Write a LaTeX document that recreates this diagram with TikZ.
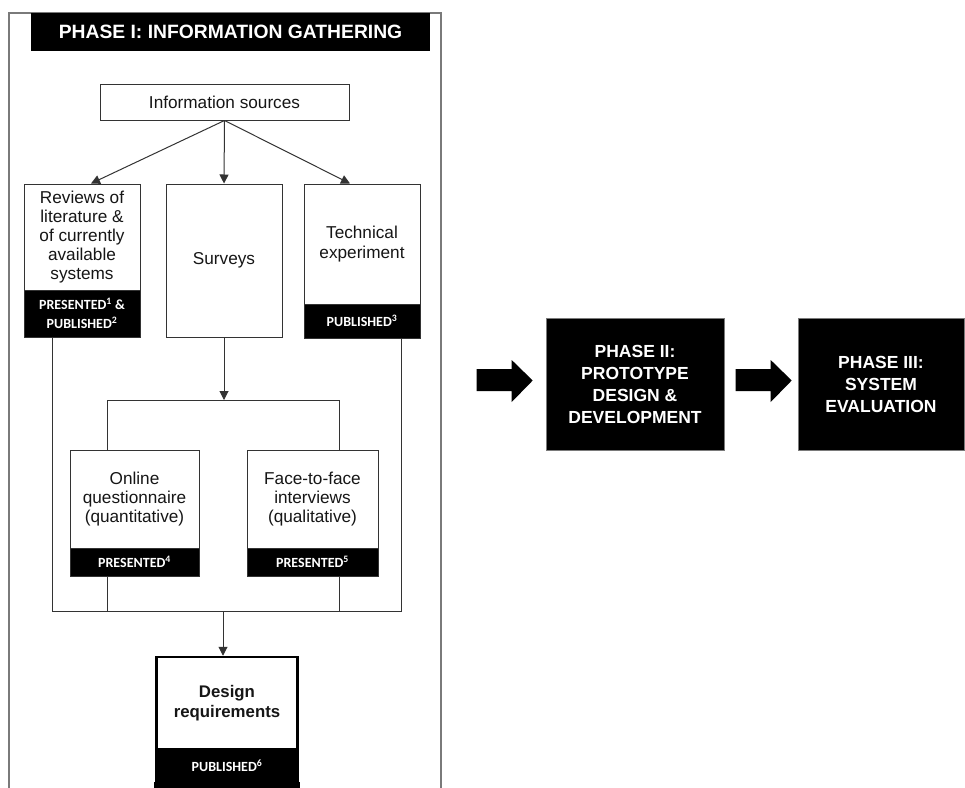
\documentclass[tikz,border=0pt]{standalone}
\usepackage{fontspec}
\setmainfont{Liberation Sans}
\newfontfamily\tagfont{Carlito}
\usetikzlibrary{arrows.meta,calc}
\definecolor{lineclr}{HTML}{333333}
\definecolor{txtclr}{HTML}{161616}
\definecolor{framegray}{HTML}{7A7A7A}
\begin{document}
\begin{tikzpicture}[x=1pt,y=-1pt,
  wbox/.style={draw=lineclr, line width=1pt, fill=white, inner sep=0pt,
    align=center, text=txtclr, font=\fontsize{17.2}{19.2}\selectfont},
  band/.style={draw=lineclr, line width=1pt, fill=black, inner sep=0pt,
    align=center, text=white, font=\tagfont\bfseries\fontsize{14}{19}\selectfont},
  conn/.style={draw=lineclr, line width=1pt},
  arr/.style={conn, -{Triangle[length=9pt,width=9pt]}},
  phase/.style={fill=black, draw=framegray, line width=0.6pt, inner sep=0pt,
    text=white, align=center, font=\bfseries\fontsize{17.5}{22}\selectfont},
  blockarrow/.style={fill=black}]
\useasboundingbox (0,0) rectangle (965,787);

% Phase I container
\draw[framegray, line width=2pt] (9,800) -- (9,13) -- (441,13) -- (441,800);
\node[fill=black, minimum width=399, minimum height=38, inner sep=0pt, text=white,
  font=\bfseries\fontsize{19.3}{21}\selectfont] (title) at (230.5,32)
  {PHASE I: INFORMATION GATHERING};

% Sources
\node[wbox, minimum width=249, minimum height=36] (src) at (224.5,102) {Information sources};

\node[wbox, minimum width=116, minimum height=106] (rev) at (82,237)
  {Reviews of\\literature \&\\of currently\\available\\systems};
\node[band, minimum width=116, minimum height=47] (revtag) at (82,313.5)
  {PRESENTED\textsuperscript{1} \&\\PUBLISHED\textsuperscript{2}};

\node[wbox, minimum width=116, minimum height=153] (srv) at (224,260.5) {Surveys};

\node[wbox, minimum width=116, minimum height=120] (tech) at (362,244)
  {Technical\\experiment};
\node[band, minimum width=116, minimum height=34] (techtag) at (362,321)
  {PUBLISHED\textsuperscript{3}};

% Survey methods
\node[wbox, minimum width=129, minimum height=98] (onl) at (134.5,499)
  {Online\\questionnaire\\(quantitative)};
\node[band, minimum width=129, minimum height=28] (onltag) at (134.5,562)
  {PRESENTED\textsuperscript{4}};

\node[wbox, minimum width=131, minimum height=98] (f2f) at (312.5,499)
  {Face-to-face\\interviews\\(qualitative)};
\node[band, minimum width=131, minimum height=28] (f2ftag) at (312.5,562)
  {PRESENTED\textsuperscript{5}};

% Outcome
\node[wbox, line width=2.5pt, draw=black, minimum width=141, minimum height=92,
  font=\bfseries\fontsize{16.8}{20}\selectfont] (req) at (227,703)
  {Design\\requirements};
\node[band, line width=2.5pt, draw=black, minimum width=141, minimum height=34] (reqtag) at (227,766)
  {PUBLISHED\textsuperscript{6}};
\fill[black] ($(reqtag.south west)+(-1.25,-2)$) rectangle ($(reqtag.south east)+(1.25,30)$);

% Connectors
\coordinate (sl) at (107,400);
\coordinate (sr) at (339,400);
\coordinate (split) at (224,400);
\coordinate (ml) at (52,611);
\coordinate (mr) at (401,611);
\coordinate (mid) at (223,611);

\draw[arr] (src.south) -- ($(rev.north)+(9,0)$);
\draw[arr] (src.south) -- (srv.north);
\draw[arr] (src.south) -- ($(tech.north)+(-12,0)$);

\draw[arr] (srv.south) -- (split);
\draw[conn] (sl |- onl.north) -- (sl) -- (sr) -- (sr |- f2f.north);

\draw[conn] (ml |- revtag.south) -- (ml) -- (mr) -- (mr |- techtag.south);
\draw[conn] (sl |- onltag.south) -- (sl |- ml);
\draw[conn] (sr |- f2ftag.south) -- (sr |- ml);
\draw[arr] (mid) -- (mid |- req.north);

% Later phases
\node[phase, minimum width=178, minimum height=132] (p2) at (635,384)
  {PHASE II:\\PROTOTYPE\\DESIGN \&\\DEVELOPMENT};
\node[phase, minimum width=166, minimum height=132] (p3) at (881,384)
  {PHASE III:\\SYSTEM\\EVALUATION};

\fill[blockarrow] ($(p2.west)+(-69,-15)$) -- ++(35,0) -- ++(0,-9) -- ++(21,20.5)
  -- ++(-21,21.5) -- ++(0,-11) -- ++(-35,0) -- cycle;
\fill[blockarrow] ($(p3.west)+(-62,-15)$) -- ++(35,0) -- ++(0,-9) -- ++(21,20.5)
  -- ++(-21,21.5) -- ++(0,-11) -- ++(-35,0) -- cycle;
\end{tikzpicture}
\end{document}
